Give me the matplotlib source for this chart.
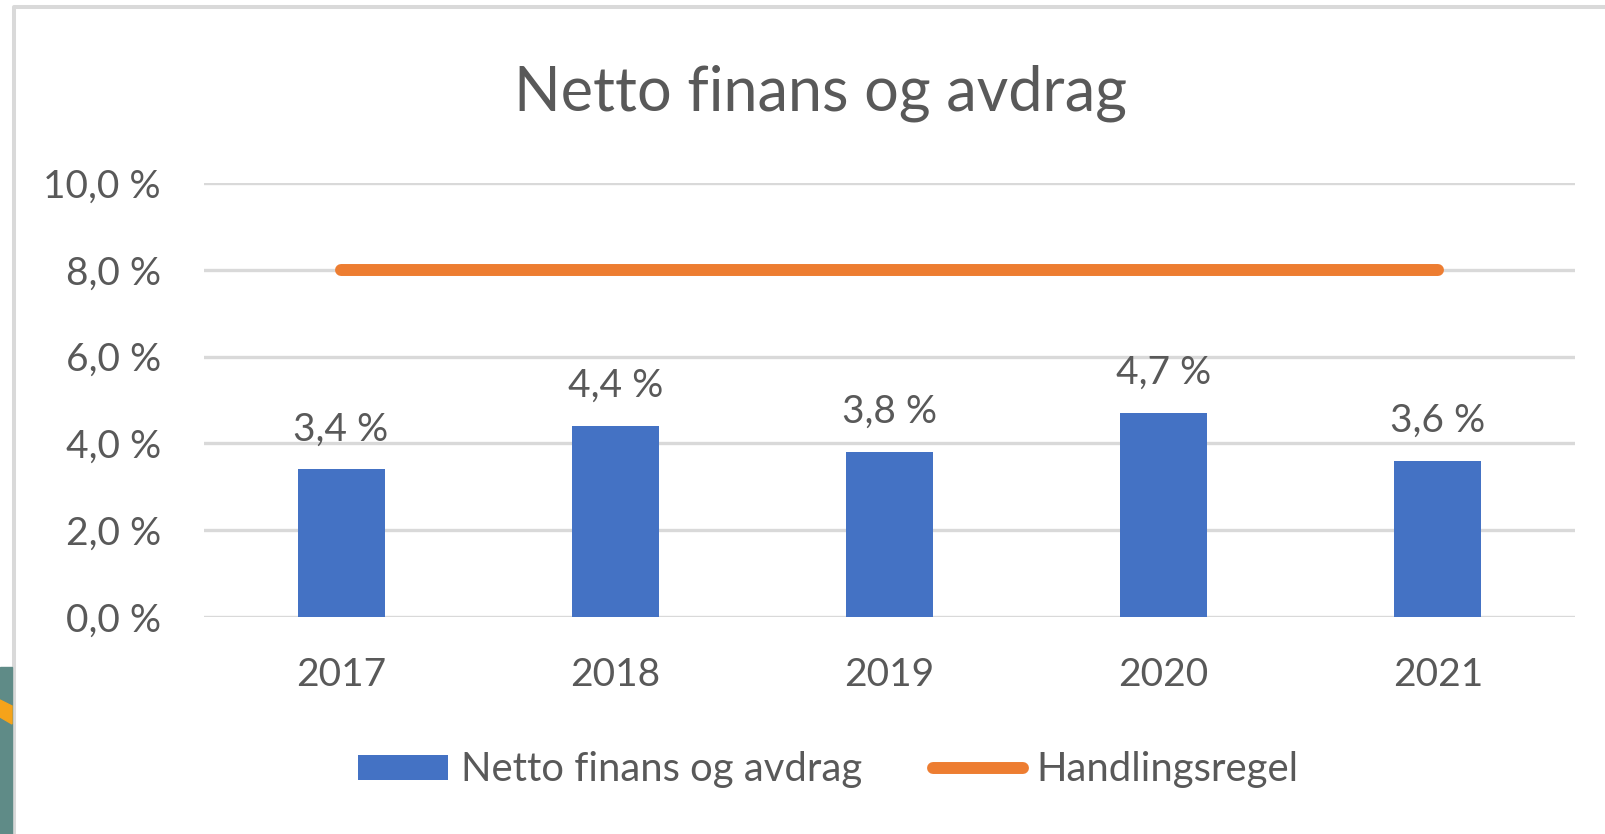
import matplotlib
matplotlib.use("Agg")
import matplotlib.pyplot as plt
from matplotlib.patches import Patch, Rectangle, Polygon
from matplotlib.lines import Line2D

years = ["2017", "2018", "2019", "2020", "2021"]
netto = [3.4, 4.4, 3.8, 4.7, 3.6]
handlingsregel = [8.0, 8.0, 8.0, 8.0, 8.0]
yticks = [0, 2, 4, 6, 8, 10]
title = "Netto finans og avdrag"
series_names = ["Netto finans og avdrag", "Handlingsregel"]

W, H = 1606, 834
FONT = "Lato"
TXT = "#595959"
BLUE = "#4472c4"
ORANGE = "#ed7d31"
GRID = "#d9d9d9"

plt.rcParams["font.family"] = [FONT, "DejaVu Sans"]

def pct(v):
    return f"{v:.1f}".replace(".", ",") + " %"

fig = plt.figure(figsize=(W / 100, H / 100), dpi=100)
fig.patch.set_facecolor("white")

def fx(px):
    return px / W

def fy(py):
    return 1 - py / H

ax = fig.add_axes([fx(204), fy(617), fx(1575) - fx(204), fy(183) - fy(617)])
x = list(range(len(years)))
bars = ax.bar(x, netto, width=0.317, color=BLUE, zorder=3)
ax.plot(x, handlingsregel, color=ORANGE, lw=8.6, solid_capstyle="round", zorder=4)

for xi, v in zip(x, netto):
    ax.annotate(pct(v), (xi, v), xytext=(0, 21), textcoords="offset points",
                ha="center", va="baseline", fontsize=28, color=TXT)

ax.set_xlim(-0.5, len(years) - 0.5)
ax.set_ylim(0, 10)
ax.set_yticks(yticks)
ax.set_yticklabels([pct(v) for v in yticks])
ax.set_xticks(x)
ax.set_xticklabels(years)
ax.tick_params(axis="y", length=0, pad=31, labelsize=28, labelcolor=TXT)
ax.tick_params(axis="x", length=0, pad=29, labelsize=28, labelcolor=TXT)
ax.yaxis.grid(True, color=GRID, lw=2.4, zorder=0)
ax.set_axisbelow(True)
for s in ax.spines.values():
    s.set_visible(False)
ax.patch.set_alpha(0)

fig.text(fx(820), fy(110), title, ha="center", va="baseline", fontsize=44, color=TXT)

handles = [Patch(facecolor=BLUE, edgecolor="none"),
           Line2D([0], [0], color=ORANGE, lw=8.6, solid_capstyle="round")]
fig.legend(handles, series_names, loc="center", bbox_to_anchor=(fx(828), fy(770)),
           ncol=2, frameon=False, fontsize=28.8, labelcolor=TXT,
           handlelength=2.25, handleheight=0.56, handletextpad=0.33, columnspacing=1.78)

# chart border
fig.add_artist(Line2D([fx(14), fx(14), fx(1610)], [fy(840), fy(6.5), fy(6.5)],
                      color=GRID, lw=2.9, transform=fig.transFigure))
# decoration on the left edge
fig.add_artist(Rectangle((0, 0), fx(12), fy(667), color="#5f8b87",
                         transform=fig.transFigure, zorder=5))
fig.add_artist(Polygon([(0, fy(700)), (fx(12), fy(706)), (fx(12), fy(724)), (0, fy(717))],
                       closed=True, color="#f5a31a", transform=fig.transFigure, zorder=6))

fig.savefig("out.png", dpi=100, facecolor="white")
